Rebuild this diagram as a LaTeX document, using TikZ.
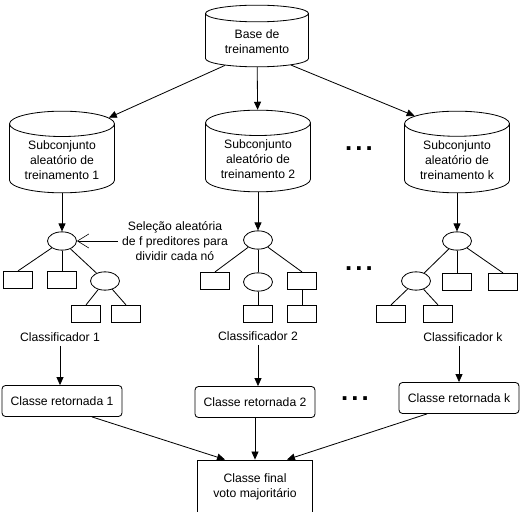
\documentclass[tikz,border=0pt]{standalone}
\usepackage{fontspec}
\setmainfont{Liberation Sans}
\usetikzlibrary{positioning,arrows.meta,shapes.geometric,calc}

\begin{document}
\begin{tikzpicture}[x=0.03cm,y=-0.03cm,
  font=\fontsize{10.4}{12.8}\selectfont,
  line width=0.7pt,
  db/.style={cylinder,shape border rotate=90,aspect=0.33,draw,align=center,
             minimum width=3.15cm,minimum height=2.45cm,inner sep=1pt,anchor=shape center},
  leaf/.style={rectangle,draw,minimum width=0.87cm,minimum height=0.52cm,inner sep=0pt},
  split/.style={ellipse,draw,minimum width=0.87cm,minimum height=0.55cm,inner sep=0pt},
  ret/.style={rectangle,rounded corners=3pt,draw,minimum width=3.6cm,minimum height=0.93cm},
  dots/.style={font=\fontsize{22}{22}\selectfont\bfseries,inner sep=0pt},
  arr/.style={-{Triangle[length=2.4mm,width=2.1mm]}},
  notearr/.style={-{Straight Barb[length=3.4mm,width=4.2mm]},line width=0.5pt}
]
\clip (0,0) rectangle (529,512);
% bases de dados
\node[db,aspect=0.25,minimum width=3.09cm,minimum height=1.85cm] (base) at (257,36) {Base de\\treinamento};
\node[db] (sub1) at (62,152) {Subconjunto\\aleatório de\\treinamento 1};
\node[db] (sub2) at (258,151) {Subconjunto\\aleatório de\\treinamento 2};
\node[db] (subk) at (457,152) {Subconjunto\\aleatório de\\treinamento k};
\node[dots] (d1) at (359,149) {.\kern2.6pt.\kern2.6pt.};
% arvore 1
\node[split] (r1) at (62,241) {};
\node[leaf] (l11) at (18,280) {};
\node[leaf] (l12) at (62,280) {};
\node[split] (c1) at (105,281) {};
\node[leaf] (l13) at (86,314) {};
\node[leaf] (l14) at (126,314) {};
\node (cls1) at (60,337) {Classificador 1};
\node[align=center] (note) at (175,241) {Seleção aleatória\\de f preditores para\\dividir cada nó};
% arvore 2
\node[split] (r2) at (258,240) {};
\node[leaf] (l21) at (215,281) {};
\node[split] (c2) at (258,282) {};
\node[leaf] (l22) at (302,281) {};
\node[leaf] (l23) at (258,314) {};
\node[leaf] (l24) at (302,314) {};
\node (cls2) at (258,336) {Classificador 2};
\node[dots] (d2) at (359,269) {.\kern2.6pt.\kern2.6pt.};
% arvore k
\node[split] (rk) at (457,241) {};
\node[split] (ck) at (416,281) {};
\node[leaf] (lk1) at (457,282) {};
\node[leaf] (lk2) at (503,282) {};
\node[leaf] (lk3) at (391,314) {};
\node[leaf] (lk4) at (438,314) {};
\node (clsk) at (463,337) {Classificador k};
% classes
\node[ret] (ret1) at (62,401) {Classe retornada 1};
\node[ret] (ret2) at (255,402) {Classe retornada 2};
\node[ret] (retk) at (459,398) {Classe retornada k};
\node[dots] (d3) at (355,399) {.\kern2.6pt.\kern2.6pt.};
\node[rectangle,draw,align=center,minimum width=3.45cm,minimum height=1.62cm] (final) at (255,487)
  {Classe final\\voto majoritário};
% conexoes
\draw[arr] (base.217) -- (sub1.42);
\draw[arr] (base) -- (sub2);
\draw[arr] (base.325) -- (subk.134);
\draw[arr] (sub1) -- (r1);
\draw[arr] (sub2) -- (r2);
\draw[arr] (subk) -- (rk);
\draw[notearr] (note.west) -- (r1.east);
\draw (r1) -- (l11.north);
\draw (r1) -- (l12.north);
\draw (r1) -- (c1);
\draw (c1) -- (l13.north);
\draw (c1) -- (l14.north);
\draw (r2) -- (l21.north);
\draw (r2) -- (c2);
\draw (r2) -- (l22.north);
\draw (c2) -- (l23);
\draw (l22) -- (l24);
\draw (rk) -- (ck);
\draw (rk) -- (lk1);
\draw (rk) -- (lk2.north);
\draw (ck) -- (lk3.north);
\draw (ck) -- (lk4.north);
\draw[arr] (cls1) -- (cls1 |- ret1.north);
\draw[arr] (cls2) -- (cls2 |- ret2.north);
\draw[arr] (retk |- clsk.south) -- (retk.north);
\draw[arr] ($(ret1.south)+(30,0)$) -- ($(final.north)+(-30,0)$);
\draw[arr] (ret2) -- (final);
\draw[arr] ($(retk.south)+(-32,0)$) -- ($(final.north)+(32,0)$);
\end{tikzpicture}
\end{document}
